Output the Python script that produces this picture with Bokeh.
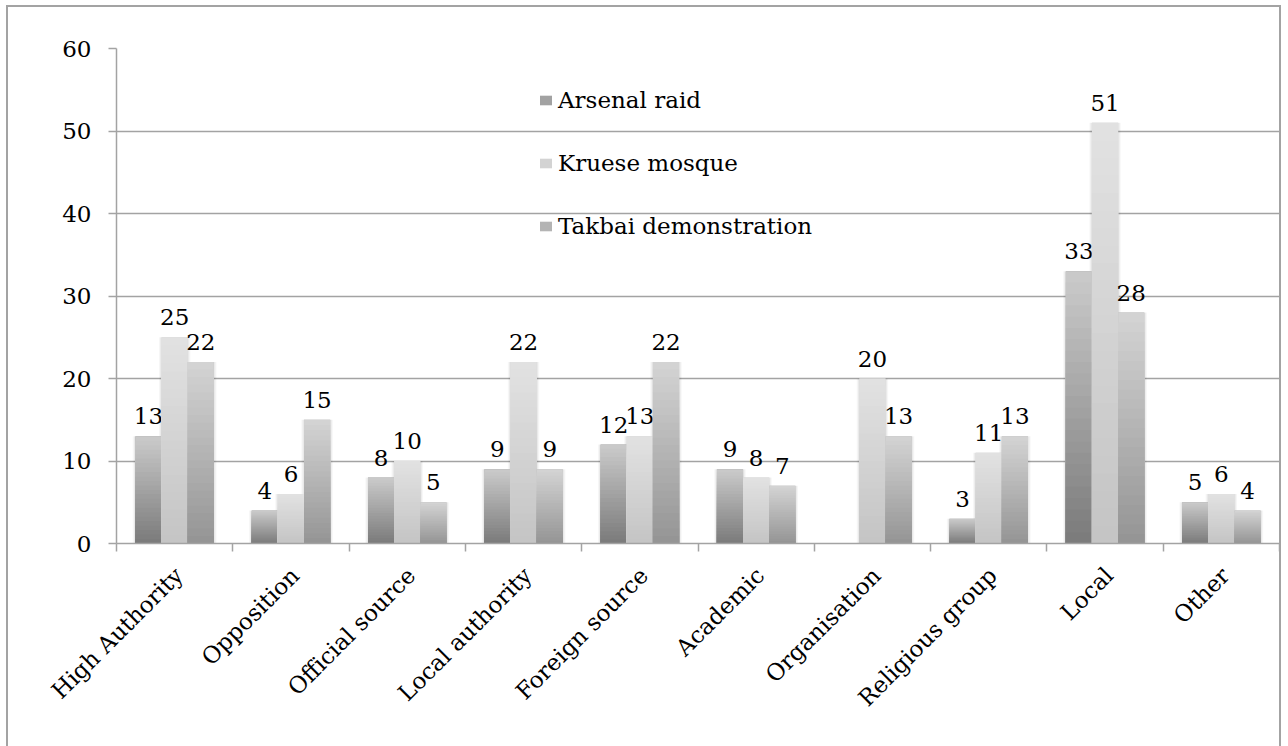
import numpy as np
from bokeh.plotting import figure
from bokeh.models import Range1d, FixedTicker, Legend, LegendItem
from bokeh.embed import file_html
from bokeh.resources import INLINE
from bokeh.core.properties import value

# ---- data ----
categories = ["High Authority", "Opposition", "Official source", "Local authority",
              "Foreign source", "Academic", "Organisation", "Religious group",
              "Local", "Other"]
series_names = ["Arsenal raid", "Kruese mosque", "Takbai demonstration"]
arsenal_raid = [13, 4, 8, 9, 12, 9, 0, 3, 33, 5]
kruese_mosque = [25, 6, 10, 22, 13, 8, 20, 11, 51, 6]
takbai_demonstration = [22, 15, 5, 9, 22, 7, 13, 13, 28, 4]
y_ticks = [0, 10, 20, 30, 40, 50, 60]

# ---- style ----
FONT = "DejaVu Serif"
FS = "23px"
GRID = "#a3a3a3"
bottom_colors = [(0x7a, 0x7a, 0x7a), (0xc4, 0xc4, 0xc4), (0x94, 0x94, 0x94)]
top_colors = [(0xcb, 0xcb, 0xcb), (0xe2, 0xe2, 0xe2), (0xd4, 0xd4, 0xd4)]
offsets = [-0.225, 0.0, 0.225]
BAR_W = 0.225
N_SHADES = 24
LABEL_SHIFT = 0.035   # rotated category labels end slightly right of centre

n = len(categories)
p = figure(width=1271, height=739,
           x_range=Range1d(0, n), y_range=Range1d(y_ticks[0], y_ticks[-1]),
           output_backend="svg", toolbar_location=None,
           min_border_left=108, min_border_right=0,
           min_border_top=41, min_border_bottom=203)
p.outline_line_color = None
p.background_fill_color = "white"
p.border_fill_color = "white"
p.styles = {"margin-left": "8px", "margin-top": "7px",
            "outline": "2px solid #a3a3a3"}

# x axis: labels at category centres, ticks at category boundaries
centers = [i + 0.5 for i in range(n)]
label_pos = [c + LABEL_SHIFT for c in centers]
bounds = [float(i) for i in range(n + 1)]
xa = p.xaxis[0]
xa.ticker = FixedTicker(ticks=label_pos, minor_ticks=bounds)
xa.major_label_overrides = {c: cat for c, cat in zip(label_pos, categories)}
xa.major_tick_line_color = None
xa.major_tick_out = 0
xa.major_tick_in = 0
xa.minor_tick_line_color = GRID
xa.minor_tick_line_width = 1.5
xa.minor_tick_out = 8
xa.minor_tick_in = 0
xa.axis_line_color = GRID
xa.axis_line_width = 1.5
xa.major_label_orientation = np.pi / 4
xa.major_label_text_font = FONT
xa.major_label_text_font_size = FS
xa.major_label_text_color = "black"
xa.major_label_standoff = 20

ya = p.yaxis[0]
ya.ticker = FixedTicker(ticks=y_ticks)
ya.major_tick_line_color = GRID
ya.major_tick_line_width = 1.5
ya.major_tick_out = 8
ya.major_tick_in = 0
ya.minor_tick_line_color = None
ya.axis_line_color = GRID
ya.axis_line_width = 1.5
ya.major_label_text_font = FONT
ya.major_label_text_font_size = FS
ya.major_label_text_color = "black"
ya.major_label_standoff = 17

p.xgrid.grid_line_color = None
p.ygrid.grid_line_color = GRID
p.ygrid.grid_line_width = 1.5


def hexcol(c0, c1, t):
    r, g, b = [int(round(a + (b_ - a) * t)) for a, b_ in zip(c0, c1)]
    return "#%02x%02x%02x" % (r, g, b)


all_series = [arsenal_raid, kruese_mosque, takbai_demonstration]

# faint soft shadow behind every bar
for s, vals in enumerate(all_series):
    xs = [c + offsets[s] for c in centers]
    for extra, alpha in [(0.045, 0.035), (0.025, 0.05)]:
        p.vbar(x=xs, top=vals, bottom=0, width=BAR_W + extra,
               fill_color="black", fill_alpha=alpha, line_color=None)

legend_items = []
for s, (name, vals) in enumerate(zip(series_names, all_series)):
    xs = [c + offsets[s] for c in centers]
    c0, c1 = bottom_colors[s], top_colors[s]
    base = p.vbar(x=xs, top=vals, bottom=0, width=BAR_W,
                  fill_color=hexcol(c0, c1, 0.5), line_color=None)
    # vertical gradient: nested bars, lightest (full height) first, darkest (shortest) last
    for k in range(N_SHADES, 0, -1):
        frac = k / N_SHADES
        col = hexcol(c0, c1, (k - 0.5) / N_SHADES)
        p.vbar(x=xs, top=[v * frac for v in vals], bottom=0, width=BAR_W,
               fill_color=col, line_color=None)
    lx = [x for x, v in zip(xs, vals) if v > 0]
    ly = [v for v in vals if v > 0]
    lt = [str(v) for v in vals if v > 0]
    p.text(x=lx, y=ly, text=lt, text_font=value(FONT), text_font_size=FS,
           text_align="center", text_baseline="alphabetic", y_offset=-20,
           text_color="black")
    legend_items.append(LegendItem(label=name, renderers=[base]))

legend = Legend(items=legend_items, location=(422, 304),
                label_text_font=FONT, label_text_font_size=FS,
                label_text_color="black",
                glyph_width=15, glyph_height=12, label_standoff=5,
                spacing=37, padding=10, margin=0,
                border_line_color=None, background_fill_alpha=0)
p.add_layout(legend)

open("out.html", "w").write(file_html(p, INLINE))
